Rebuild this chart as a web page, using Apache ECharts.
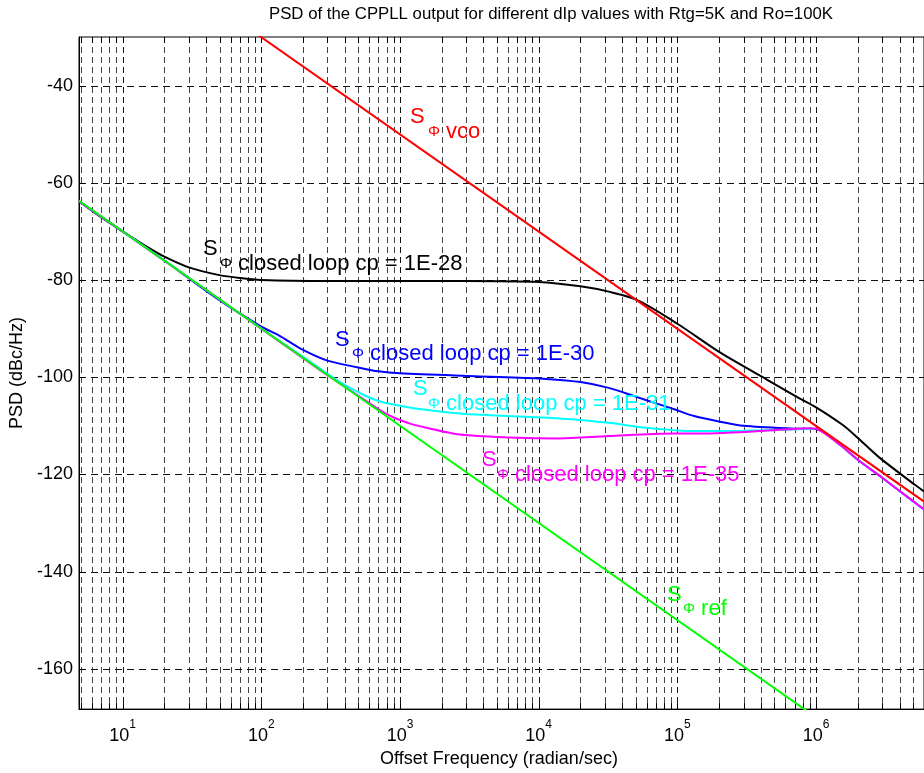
<!DOCTYPE html>
<html><head><meta charset="utf-8">
<script src="https://cdn.jsdelivr.net/npm/echarts@6/dist/echarts.min.js"></script>
<style>html,body{margin:0;padding:0;background:#fff}#c{width:924px;height:773px}</style>
</head><body><div id="c"></div>
<script>
// ---- data (frequency in rad/s, PSD in dBc/Hz) ----
const xRange = [4.85, 6e6];
const yRange = [-168.3, -30];
const yTickLabels = [-160, -140, -120, -100, -80, -60, -40];
const xDecades = [10, 100, 1e3, 1e4, 1e5, 1e6];

const vcoPSD = [[80, -28.1], [6e6, -125.6]];
const refPSD = [[4.85, -63.7], [1e6, -170]];
const cp28PSD = [[4.85,-63.8],[7,-67.1],[10,-70],[15,-73.2],[20,-75.2],[30,-77.4],[50,-79],[70,-79.6],[100,-80],[300,-80.2],[1000,-80.2],[3000,-80.2],[10000,-80.4],[20000,-81.3],[32000,-82.4],[51000,-84.1],[1e5,-89],[2e5,-94.8],[4e5,-99.8],[7e5,-103.8],[1e6,-106.2],[1.55e6,-109.8],[2e6,-112.5],[2.85e6,-116.5],[5.25e6,-122.3],[6e6,-123.5]];
const cp30PSD = [[4.85,-63.8],[10,-70],[20,-76],[49,-84],[100,-89.6],[132,-91.3],[200,-94.4],[300,-96.6],[500,-98],[700,-98.8],[1000,-99.2],[3500,-99.8],[10700,-100.3],[20000,-101],[32000,-102.2],[50000,-104],[70000,-105.4],[95000,-106.6],[1.32e5,-108],[2e5,-109.1],[3e5,-110],[7e5,-110.6],[1e6,-110.7],[1.5e6,-114],[2e6,-117],[3e6,-120.7],[5e6,-125.5],[6e6,-127.2]];
const cp31PSD = [[4.85,-63.8],[10,-70],[30,-79.5],[100,-90],[200,-95.8],[300,-99.3],[400,-101.6],[525,-103.4],[700,-104.9],[1200,-106.3],[2000,-107.1],[3500,-107.7],[10700,-108.3],[20000,-108.8],[32000,-109.4],[60000,-110.4],[1.32e5,-111.1],[3e5,-111],[6e5,-110.8],[1e6,-110.6],[1.5e6,-114],[2e6,-117],[3e6,-120.7],[5e6,-125.5],[6e6,-127.2]];
const cp35PSD = [[4.85,-63.8],[10,-70],[100,-90],[300,-99.6],[500,-103.8],[700,-106.6],[900,-108.3],[1200,-109.6],[1550,-110.4],[2700,-111.8],[6200,-112.4],[14000,-112.6],[32000,-112.1],[95000,-111.6],[1.32e5,-111.6],[4e5,-111.1],[9e5,-110.5],[1e6,-110.6],[1.5e6,-114],[2e6,-117],[3e6,-120.7],[5e6,-125.5],[6e6,-127.2]];

// ---- grid tick values (log minor grid) ----
const xGridValues = [];
for (let k = 0; k <= 6; k++) for (let m = 1; m <= 9; m++) {
  const v = m * Math.pow(10, k);
  if (v >= xRange[0] && v <= xRange[1]) xGridValues.push(v);
}

const FONT = '"Liberation Sans", Arial, Helvetica, sans-serif';
const chart = echarts.init(document.getElementById('c'), null, {renderer: 'canvas'});

function lineSeries(name, data, color, z) {
  return {name, type: 'line', data, showSymbol: false, symbol: 'none', smooth: 0.3,
    lineStyle: {color, width: 2}, itemStyle: {color}, z, clip: true, silent: true, animation: false};
}

function label(sX, sY, restX, restY, rest, color) {
  return [
    {type: 'text', x: sX, y: sY, z: 100, style: {text: 'S', font: '22px ' + FONT, fill: color, textVerticalAlign: 'middle'}},
    {type: 'text', x: restX, y: restY, z: 100, style: {text: '{p|Φ}{t|' + rest + '}', fill: color, textVerticalAlign: 'middle',
      rich: {p: {fontSize: 15, fontFamily: FONT, fill: color, color}, t: {fontSize: 22, fontFamily: FONT, fill: color, color}}}}
  ];
}

const option = {
  animation: false,
  backgroundColor: '#fff',
  grid: {left: 79, top: 37, width: 853, height: 675, show: true, borderColor: '#000', borderWidth: 1, backgroundColor: 'transparent'},
  xAxis: {
    type: 'log', logBase: 10, min: xRange[0], max: xRange[1],
    name: 'Offset Frequency (radian/sec)', nameLocation: 'middle', nameGap: 37,
    nameTextStyle: {fontFamily: FONT, fontSize: 18, color: '#000', padding: [0, 5, 0, 0]},
    axisLine: {show: true, lineStyle: {color: '#000', width: 1}},
    axisTick: {show: false}, splitLine: {show: false}, minorTick: {show: false},
    axisLabel: {
      showMinLabel: false, showMaxLabel: false, margin: 10,
      formatter: function (v) {
        const e = Math.log10(v); const r = Math.round(e);
        if (Math.abs(e - r) > 1e-6) return '';
        return '{b|10}{s|' + r + '}';
      },
      rich: {b: {fontFamily: FONT, fontSize: 18, color: '#000', verticalAlign: 'bottom', lineHeight: 26},
             s: {fontFamily: FONT, fontSize: 12, color: '#000', verticalAlign: 'top', lineHeight: 10}}
    }
  },
  yAxis: {
    type: 'value', min: yRange[0], max: yRange[1], splitNumber: 7,
    name: 'PSD (dBc/Hz)', nameLocation: 'middle', nameGap: 46, nameRotate: 90,
    nameTextStyle: {fontFamily: FONT, fontSize: 18, color: '#000'},
    axisLine: {show: true, lineStyle: {color: '#000', width: 1}},
    axisTick: {show: false}, splitLine: {show: false},
    axisLabel: {customValues: yTickLabels, fontFamily: FONT, fontSize: 18, color: '#000', margin: 6,
      formatter: v => (Math.round(v) % 20 === 0 ? String(Math.round(v)) : '')}
  },
  title: {text: 'PSD of the CPPLL output for different dIp values with Rtg=5K and Ro=100K',
    left: 546, top: 1, textAlign: 'center',
    textStyle: {fontFamily: FONT, fontSize: 16.8, fontWeight: 'normal', color: '#000'}},
  series: [
    {type: 'custom', silent: true, z: 1, clip: false, data: xGridValues.map(v => [v, -100]),
      renderItem: function (params, api) {
        const cs = params.coordSys;
        const x = Math.round(api.coord([api.value(0), -100])[0]) + 0.5;
        const dec = Math.abs(Math.log10(api.value(0)) - Math.round(Math.log10(api.value(0)))) < 1e-6;
        return {type: 'group', children: [
          {type: 'line', shape: {x1: x, y1: cs.y, x2: x, y2: cs.y + cs.height},
            style: {stroke: dec ? '#111' : '#444', lineWidth: 1, lineDash: [6, 4]}},
          {type: 'line', shape: {x1: x, y1: cs.y + cs.height, x2: x, y2: cs.y + cs.height - 6}, style: {stroke: '#000', lineWidth: 1}},
          {type: 'line', shape: {x1: x, y1: cs.y, x2: x, y2: cs.y + 6}, style: {stroke: '#000', lineWidth: 1}}
        ]};
      }},
    {type: 'custom', silent: true, z: 1, clip: false, data: yTickLabels.map(v => [10, v]),
      renderItem: function (params, api) {
        const cs = params.coordSys;
        const y = Math.round(api.coord([10, api.value(1)])[1]) + 0.5;
        return {type: 'group', children: [
          {type: 'line', shape: {x1: cs.x, y1: y, x2: cs.x + cs.width, y2: y}, style: {stroke: '#111', lineWidth: 1, lineDash: [7, 5]}},
          {type: 'line', shape: {x1: cs.x, y1: y, x2: cs.x + 6, y2: y}, style: {stroke: '#000', lineWidth: 1}}
        ]};
      }},
    lineSeries('cp 1E-28', cp28PSD, '#000000', 3),
    lineSeries('cp 1E-30', cp30PSD, '#0000ff', 4),
    lineSeries('cp 1E-31', cp31PSD, '#00ffff', 5),
    lineSeries('cp 1E-35', cp35PSD, '#ff00ff', 6),
    lineSeries('ref', refPSD, '#00ff00', 7),
    lineSeries('vco', vcoPSD, '#ff0000', 8)
  ],
  graphic: [].concat(
    label(410, 117, 428, 132, ' vco', '#ff0000'),
    label(203, 249, 220, 264, ' closed loop cp = 1E-28', '#000000'),
    label(335, 340, 352, 354, ' closed loop cp = 1E-30', '#0000ff'),
    label(413, 389, 428, 404, ' closed loop cp = 1E-31', '#00ffff'),
    label(482, 460, 497, 475, ' closed loop cp = 1E-35', '#ff00ff'),
    label(667, 595, 683, 609, ' ref', '#00ff00')
  )
};
chart.setOption(option);
</script>
</body></html>
